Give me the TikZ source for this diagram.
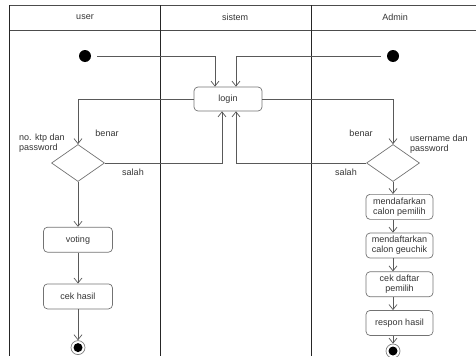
\documentclass[tikz,border=0pt]{standalone}
\usepackage{fontspec}
\setmainfont{Liberation Sans}
\usetikzlibrary{positioning, shapes.geometric, arrows.meta}

\begin{document}
\begin{tikzpicture}[
    x=1pt, y=1pt,
    font=\fontsize{9}{10}\selectfont,
    text=black!80,
    action/.style={draw=black!55, line width=0.7pt, rounded corners=4pt, minimum width=67pt,
        minimum height=25pt, inner sep=1pt, align=center},
    decision/.style={diamond, draw=black!55, line width=0.7pt, minimum width=53pt,
        minimum height=37pt, inner sep=0pt},
    initnode/.style={circle, fill=black, minimum size=12pt, inner sep=0pt},
    endnode/.style={circle, draw=black!50, line width=0.7pt, minimum size=14pt, inner sep=0pt,
        path picture={\fill[black] (path picture bounding box.center) circle (4.5pt);}},
    flow/.style={draw=black!65, line width=0.7pt, -{Straight Barb[length=5pt,width=8pt]}},
    lbl/.style={inner sep=0pt, align=left}
]
    \useasboundingbox (0,0) rectangle (476,-356);

    % swimlanes
    \draw[black!70, line width=0.8pt] (9,-5) -- (476,-5) (9,-30) -- (476,-30);
    \draw[black!85, line width=1pt] (9,-5) -- (9,-356)
        (160,-5) -- (160,-356) (311,-5) -- (311,-356);
    \node (hUser) at (85,-17.5) {user};
    \node (hSistem) at (235,-17.5) {sistem};
    \node (hAdmin) at (395,-17.5) {Admin};

    % user
    \node[initnode] (uStart) at (85,-56) {};
    \node[decision] (uDec) at (78,-163) {};
    \node[
        action,
        minimum width=69pt,
        below=45pt of uDec] (voting) {voting};
    \node[
        action,
        minimum width=69pt,
        below=31pt of voting] (cekHasil) {cek hasil};
    \node[endnode, below=31pt of cekHasil] (uEnd) {};

    % sistem
    \node[action, minimum width=68pt, minimum height=24pt] (login) at (228,-99) {login};

    % admin
    \node[initnode] (aStart) at (393,-56) {};
    \node[decision] (aDec) at (393,-163) {};
    \node[action, anchor=north] (regPemilih) at (399.5,-194) {mendafarkan\\calon pemilih};
    \node[
        action,
        below=13pt of regPemilih] (regGeuchik) {mendaftarkan\\calon geuchik};
    \node[
        action,
        below=13pt of regGeuchik] (cekDaftar) {cek daftar\\pemilih};
    \node[
        action,
        below=13pt of cekDaftar] (respon) {respon hasil};
    \node[endnode] (aEnd) at (393,-351) {};

    % labels
    \node[lbl, anchor=north west] (uCond) at (19,-134) {no. ktp dan\\password};
    \node (uBenar) at (107,-133) {benar};
    \node (uSalah) at (133,-172) {salah};
    \node (aBenar) at (361,-133) {benar};
    \node (aSalah) at (346,-172) {salah};
    \node[lbl, anchor=north west] (aCond) at (410,-135) {username dan\\password};

    % flows
    \draw[flow, shorten <=6pt] (uStart.east) -| ([xshift=-13pt]login.north);
    \draw[flow, shorten <=6pt] (aStart.west) -| ([xshift=8pt]login.north);
    \draw[flow] (login.west) -| (uDec.north);
    \draw[flow] (login.east) -| (aDec.north);
    \draw[flow] (uDec.east) -| ([xshift=-6pt]login.south);
    \draw[flow] (aDec.west) -| ([xshift=8pt]login.south);

    \draw[flow] (uDec.south) -- (voting.north);
    \draw[flow] (voting.south) -- (cekHasil.north);
    \draw[flow] (cekHasil.south) -- (uEnd.north);

    \draw[flow] (aDec.south) -- (aDec.south |- regPemilih.north);
    \draw[flow] (aDec.south |- regPemilih.south) -- (aDec.south |- regGeuchik.north);
    \draw[flow] (aDec.south |- regGeuchik.south) -- (aDec.south |- cekDaftar.north);
    \draw[flow] (aDec.south |- cekDaftar.south) -- (aDec.south |- respon.north);
    \draw[flow] (aDec.south |- respon.south) -- (aEnd.north);
\end{tikzpicture}
\end{document}
